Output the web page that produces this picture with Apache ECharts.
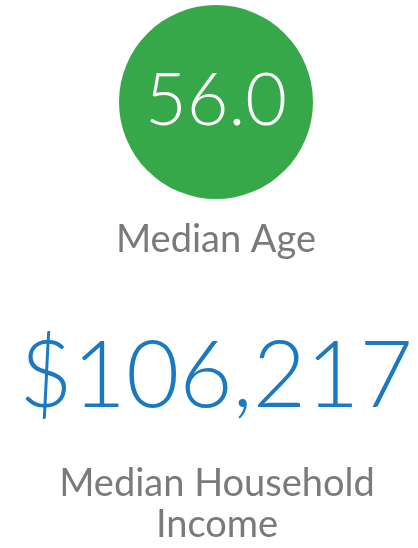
<!DOCTYPE html>
<html>
<head>
<meta charset="utf-8">
<script src="https://cdn.jsdelivr.net/npm/echarts@6/dist/echarts.min.js"></script>
<style>
  html, body { margin: 0; padding: 0; background: #fff; }
  #chart { width: 418px; height: 548px; }
</style>
</head>
<body>
<div id="chart"></div>
<script>
// values
var ageLabel = ['Median Age'];
var ageValue = [56.0];
var incomeLabel = ['Median Household', 'Income'];
var incomeValue = [106217];

var fontFamily = 'Lato';
var labelStyle = { color: '#7a7a7a', fontSize: 38, fontWeight: 'normal', fontFamily: fontFamily };
var cx = 216;
// title anchors land a few px right of the given left, so pull them back
var tx = cx - 5;

var myChart = echarts.init(document.getElementById('chart'));

var option = {
    backgroundColor: '#fff',
    animation: false,
    title: [{
        text: ageLabel[0],
        left: tx,
        textAlign: 'center',
        top: 216,
        textStyle: labelStyle
    }, {
        text: '$' + incomeValue[0].toLocaleString('en-US'),
        left: tx,
        textAlign: 'center',
        top: 326,
        textStyle: { color: '#1a79c2', fontSize: 92, fontWeight: 300, fontFamily: fontFamily }
    }, {
        text: incomeLabel[0],
        left: tx + 1,
        textAlign: 'center',
        top: 460,
        textStyle: labelStyle
    }, {
        text: incomeLabel[1],
        left: tx + 1,
        textAlign: 'center',
        top: 501,
        textStyle: labelStyle
    }],
    series: [{
        type: 'pie',
        center: [cx, 102],
        radius: [0, 97],
        silent: true,
        label: {
            show: true,
            position: 'center',
            formatter: function (p) { return p.value.toFixed(1); },
            color: '#fff',
            fontSize: 72,
            fontFamily: fontFamily,
            fontWeight: 300
        },
        labelLine: { show: false },
        itemStyle: { color: '#37a84a' },
        data: [{ value: ageValue[0], name: ageLabel[0] }]
    }]
};

myChart.setOption(option);
</script>
</body>
</html>
